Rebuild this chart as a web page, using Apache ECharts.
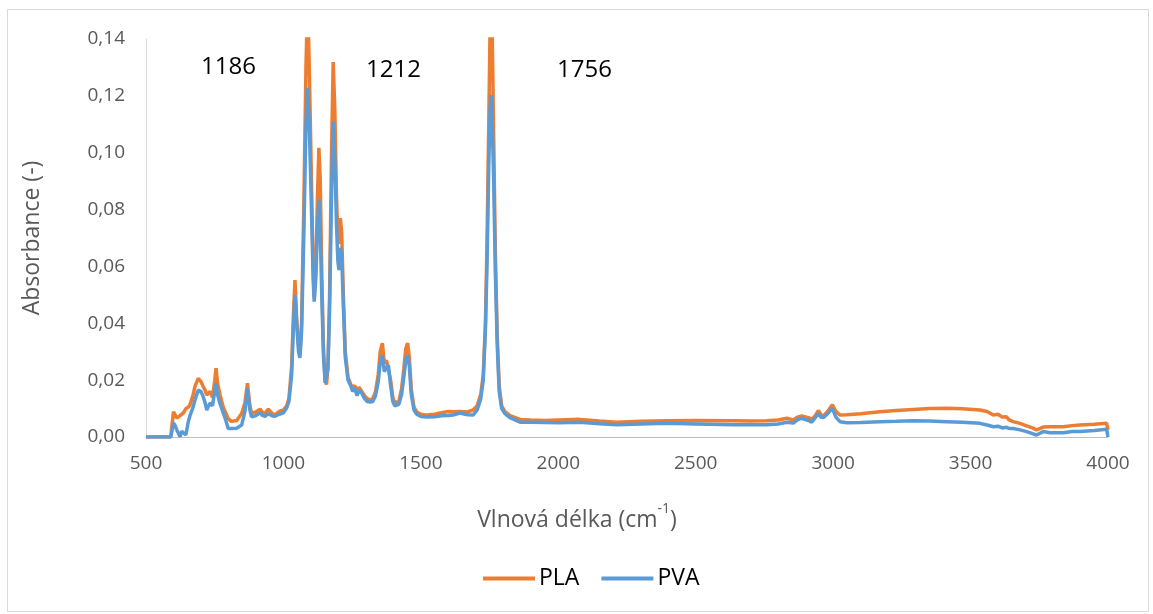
<!DOCTYPE html>
<html>
<head>
<meta charset="utf-8">
<script src="https://cdn.jsdelivr.net/npm/echarts@6/dist/echarts.min.js"></script>
<style>
html,body{margin:0;padding:0;background:#fff;}
#chart{width:1153px;height:614px;}
</style>
</head>
<body>
<div id="chart"></div>
<script>
const wavenumbers = [500,590,596,600,606,612,624,630,636,645,654,660,672,678,690,700,708,715,721,727,733,742,750,755,760,769,781,790,799,810,830,848,860,869,878,884,900,915,925,933,945,951,960,969,985,1000,1012,1020,1030,1036,1042,1048,1055,1060,1066,1074,1082,1088,1094,1102,1108,1112,1118,1124,1129,1134,1140,1146,1152,1157,1162,1168,1175,1181,1187,1193,1198,1202,1207,1212,1218,1225,1235,1245,1252,1260,1268,1275,1285,1295,1305,1315,1325,1335,1345,1352,1360,1367,1375,1382,1390,1398,1405,1412,1420,1430,1438,1445,1452,1458,1465,1475,1485,1500,1521,1550,1575,1600,1617,1642,1670,1690,1705,1718,1727,1735,1741,1747,1752,1756,1760,1765,1771,1778,1785,1794,1805,1824,1861,1900,1950,2000,2079,2150,2212,2300,2394,2500,2637,2700,2758,2800,2831,2855,2870,2885,2910,2922,2935,2946,2955,2964,2980,2997,3010,3025,3050,3100,3170,3230,3291,3350,3413,3470,3534,3560,3583,3600,3615,3631,3640,3655,3680,3704,3725,3740,3764,3790,3837,3870,3898,3950,3995,4000];

const plaValues = [0,0,0,0.0089,0.0085,0.0067,0.0075,0.0080,0.0085,0.0100,0.0105,0.0113,0.0150,0.0177,0.0206,0.0195,0.0177,0.0165,0.0148,0.0155,0.0160,0.0140,0.0200,0.0242,0.0190,0.0150,0.0105,0.0085,0.0065,0.0055,0.0058,0.0083,0.0120,0.0189,0.0110,0.0083,0.0088,0.0098,0.0085,0.0083,0.0098,0.0095,0.0082,0.0078,0.0090,0.0095,0.0110,0.0135,0.0250,0.0420,0.0552,0.0420,0.0320,0.0290,0.0400,0.0800,0.1300,0.1550,0.1300,0.0900,0.0600,0.0490,0.0600,0.0850,0.1017,0.0900,0.0550,0.0300,0.0195,0.0185,0.0250,0.0500,0.1000,0.1319,0.1150,0.0850,0.0700,0.0680,0.0770,0.0720,0.0500,0.0300,0.0210,0.0185,0.0175,0.0180,0.0160,0.0175,0.0160,0.0145,0.0135,0.0130,0.0135,0.0160,0.0220,0.0300,0.0330,0.0260,0.0270,0.0277,0.0200,0.0140,0.0120,0.0115,0.0125,0.0170,0.0240,0.0310,0.0330,0.0280,0.0170,0.0105,0.0088,0.0080,0.0077,0.0080,0.0085,0.0090,0.0089,0.0090,0.0088,0.0095,0.0110,0.0150,0.0220,0.0400,0.0700,0.1100,0.1450,0.1550,0.1400,0.1050,0.0650,0.0350,0.0180,0.0110,0.0090,0.0075,0.0062,0.0060,0.0058,0.0060,0.0062,0.0056,0.0052,0.0055,0.0057,0.0058,0.0057,0.0056,0.0057,0.0060,0.0066,0.0060,0.0070,0.0074,0.0068,0.0062,0.0075,0.0093,0.0080,0.0073,0.0090,0.0113,0.0090,0.0077,0.0078,0.0082,0.0089,0.0093,0.0097,0.0100,0.0101,0.0099,0.0095,0.0090,0.0077,0.0080,0.0070,0.0071,0.0060,0.0054,0.0048,0.0039,0.0032,0.0025,0.0035,0.0036,0.0036,0.0040,0.0042,0.0045,0.0048,0.0025];

const pvaValues = [0,0,0,0.0049,0.0040,0.0025,0.0001,0.0020,0.0025,0.0007,0.0054,0.0075,0.0107,0.0130,0.0165,0.0160,0.0142,0.0120,0.0095,0.0090,0.0120,0.0110,0.0160,0.0189,0.0150,0.0118,0.0085,0.0060,0.0030,0.0030,0.0031,0.0042,0.0090,0.0171,0.0095,0.0071,0.0075,0.0085,0.0075,0.0073,0.0082,0.0080,0.0074,0.0073,0.0080,0.0085,0.0103,0.0125,0.0220,0.0380,0.0500,0.0400,0.0300,0.0278,0.0370,0.0700,0.1100,0.1228,0.1100,0.0800,0.0560,0.0476,0.0560,0.0740,0.0834,0.0720,0.0480,0.0280,0.0190,0.0183,0.0240,0.0450,0.0850,0.1109,0.0980,0.0750,0.0620,0.0587,0.0665,0.0640,0.0460,0.0280,0.0200,0.0180,0.0160,0.0172,0.0145,0.0165,0.0155,0.0135,0.0125,0.0123,0.0125,0.0145,0.0195,0.0260,0.0288,0.0230,0.0245,0.0253,0.0180,0.0125,0.0110,0.0107,0.0115,0.0150,0.0210,0.0270,0.0288,0.0250,0.0150,0.0095,0.0080,0.0072,0.0070,0.0071,0.0075,0.0076,0.0077,0.0084,0.0078,0.0077,0.0095,0.0135,0.0200,0.0380,0.0620,0.0950,0.1150,0.1203,0.1100,0.0900,0.0580,0.0320,0.0160,0.0100,0.0083,0.0068,0.0052,0.0052,0.0051,0.0050,0.0052,0.0047,0.0043,0.0046,0.0048,0.0046,0.0043,0.0043,0.0043,0.0046,0.0052,0.0049,0.0060,0.0066,0.0058,0.0052,0.0068,0.0083,0.0070,0.0068,0.0082,0.0101,0.0070,0.0054,0.0050,0.0051,0.0054,0.0055,0.0057,0.0056,0.0054,0.0052,0.0048,0.0042,0.0036,0.0038,0.0032,0.0034,0.0030,0.0030,0.0025,0.0019,0.0012,0.0007,0.0019,0.0015,0.0015,0.0019,0.0019,0.0023,0.0027,0.0000];

const seriesNames = ['PLA','PVA'];
const peakLabels = ['1186','1212','1756'];
const xTicks = [500,1000,1500,2000,2500,3000,3500,4000];
const yTicks = [0,0.02,0.04,0.06,0.08,0.10,0.12,0.14];

const chart = echarts.init(document.getElementById('chart'), null, {renderer:'canvas'});
const fontFam = '"Open Sans", "Noto Sans", sans-serif';
const toPairs = vals => wavenumbers.map((w,i)=>[w, vals[i]]);

chart.setOption({
  animation:false,
  backgroundColor:'#fff',
  grid:{left:146,right:45,top:39,bottom:177,containLabel:false},
  xAxis:{
    type:'value',min:xTicks[0],max:xTicks[xTicks.length-1],interval:500,
    axisLine:{show:true,onZero:false,lineStyle:{color:'#bfbfbf',width:1}},
    axisTick:{show:false},splitLine:{show:false},
    axisLabel:{color:'#595959',fontSize:19,fontFamily:fontFam,margin:17,formatter:v=>String(v)},
    name:'{t|Vlnová délka (cm}{s|-1}{t|)}',nameLocation:'middle',nameGap:65,
    nameTextStyle:{padding:[0,100,0,0],rich:{
      t:{color:'#595959',fontSize:23,fontFamily:fontFam,verticalAlign:'bottom',lineHeight:30},
      s:{color:'#595959',fontSize:14,fontFamily:fontFam,verticalAlign:'top',lineHeight:30,padding:[0,0,13,0]}
    }}
  },
  yAxis:{
    type:'value',min:yTicks[0],max:yTicks[yTicks.length-1],interval:0.02,
    axisLine:{show:true,lineStyle:{color:'#d9d9d9',width:1}},
    axisTick:{show:false},splitLine:{show:false},
    axisLabel:{color:'#595959',fontSize:19,fontFamily:fontFam,margin:21,
      formatter:v=>v.toFixed(2).replace('.',',')},
    name:'Absorbance (-)',nameLocation:'middle',nameGap:102,nameRotate:90,
    nameTextStyle:{color:'#595959',fontSize:23,fontFamily:fontFam}
  },
  legend:{
    bottom:19,left:478,itemWidth:52,itemHeight:4,itemGap:22,icon:'rect',
    textStyle:{color:'#000',fontSize:23,fontFamily:fontFam,padding:[0,0,0,-1]},
    data:seriesNames
  },
  graphic:[
    {type:'rect',silent:true,z:-1,shape:{x:7.5,y:9.5,width:1141,height:602},style:{fill:'none',stroke:'#d9d9d9',lineWidth:1}},
    {type:'text',left:201,top:55,style:{text:peakLabels[0],fontSize:24,fontFamily:fontFam,fill:'#000'}},
    {type:'text',left:366,top:58,style:{text:peakLabels[1],fontSize:24,fontFamily:fontFam,fill:'#000'}},
    {type:'text',left:557,top:58,style:{text:peakLabels[2],fontSize:24,fontFamily:fontFam,fill:'#000'}}
  ],
  series:[
    {name:seriesNames[0],type:'line',data:toPairs(plaValues),showSymbol:false,symbol:'none',clip:true,
      lineStyle:{color:'#ED7D31',width:3.5},itemStyle:{color:'#ED7D31'}},
    {name:seriesNames[1],type:'line',data:toPairs(pvaValues),showSymbol:false,symbol:'none',clip:true,
      lineStyle:{color:'#5B9BD5',width:3.5},itemStyle:{color:'#5B9BD5'}}
  ]
});
</script>
</body>
</html>
